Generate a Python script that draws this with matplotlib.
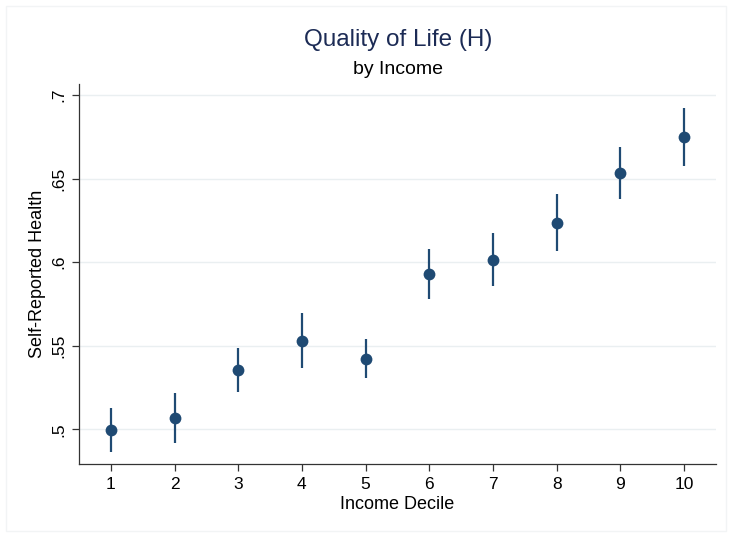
import matplotlib
matplotlib.use("Agg")
import matplotlib.pyplot as plt
from matplotlib.patches import Rectangle
from matplotlib.ticker import FuncFormatter

plt.rcParams["font.family"] = ["Liberation Sans", "DejaVu Sans"]

# mean self-reported health by income decile, with 95% CI bounds
deciles = [1, 2, 3, 4, 5, 6, 7, 8, 9, 10]
mean_health = [0.4996, 0.5068, 0.5355, 0.5526, 0.5422, 0.5931, 0.6015, 0.6236, 0.6533, 0.6749]
ci_low = [0.4862, 0.4920, 0.5225, 0.5365, 0.5305, 0.5780, 0.5856, 0.6067, 0.6378, 0.6573]
ci_high = [0.5129, 0.5215, 0.5485, 0.5694, 0.5540, 0.6079, 0.6173, 0.6408, 0.6687, 0.6924]
y_ticks = [0.5, 0.55, 0.6, 0.65, 0.7]

navy = "#1f4a73"
title_col = "#1c2b55"

fig = plt.figure(figsize=(7.31, 5.34), dpi=100)
fig.patches.append(Rectangle((0.008, 0.006), 0.985, 0.982, transform=fig.transFigure,
                             fill=False, edgecolor="#f2f4f5", lw=1.0))
ax = fig.add_axes([0.108, 0.131, 0.8715, 0.7117])

for x, lo, hi in zip(deciles, ci_low, ci_high):
    ax.plot([x, x], [lo, hi], color=navy, lw=1.6, solid_capstyle="butt", zorder=2)
ax.plot(deciles, mean_health, "o", color=navy, ms=8.5, mew=0, zorder=3)

ax.set_xlim(0.5, 10.5)
ax.set_ylim(0.4792, 0.7066)
ax.set_xticks(deciles)
ax.set_yticks(y_ticks)
ax.yaxis.set_major_formatter(FuncFormatter(lambda v, _: f"{v:g}".lstrip("0")))
ax.grid(axis="y", color="#eaeff1", lw=1.0, zorder=0)
ax.set_axisbelow(True)

ax.tick_params(axis="both", direction="out", length=5, width=0.9, color="#333333",
               labelsize=12.5, pad=4)
for lab in ax.get_yticklabels():
    lab.set_rotation(90)
    lab.set_va("center")

for side in ("top", "right"):
    ax.spines[side].set_visible(False)
for side in ("left", "bottom"):
    ax.spines[side].set_color("#333333")
    ax.spines[side].set_linewidth(0.9)

ax.set_xlabel("Income Decile", fontsize=13, labelpad=3)
ax.set_ylabel("Self-Reported Health", fontsize=13, labelpad=4)

fig.text(0.5445, 0.925, "Quality of Life (H)", ha="center", va="center",
         fontsize=17.5, color=title_col)
fig.text(0.5445, 0.870, "by Income", ha="center", va="center", fontsize=14, color="black")

fig.savefig("out.png", dpi=100, facecolor="white")
